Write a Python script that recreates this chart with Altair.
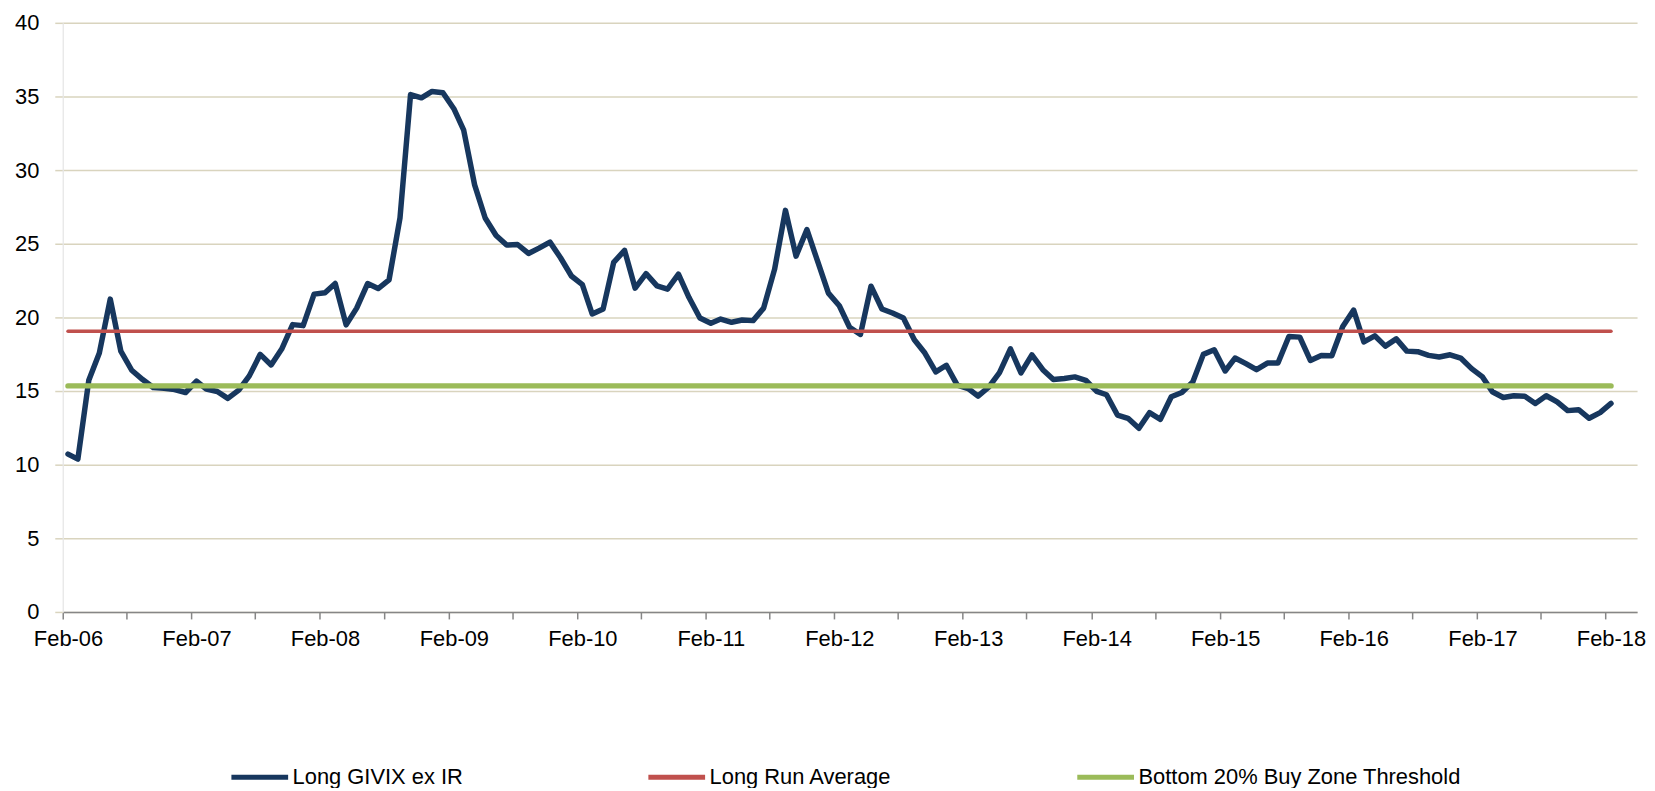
import altair as alt
import pandas as pd

# ---- data (monthly, Feb-06 .. Feb-18) ----
start_month = "2006-02-01"
givix = [10.72, 10.38, 15.73, 17.58, 21.24, 17.71, 16.41, 15.78, 15.24, 15.19,
         15.10, 14.90, 15.67, 15.13, 14.97, 14.50, 15.06, 16.03, 17.49, 16.77,
         17.85, 19.51, 19.44, 21.58, 21.67, 22.30, 19.49, 20.63, 22.30, 21.96,
         22.55, 26.75, 35.13, 34.91, 35.34, 35.25, 34.17, 32.71, 29.00, 26.75,
         25.56, 24.91, 24.95, 24.34, 24.70, 25.11, 24.05, 22.81, 22.23, 20.23,
         20.57, 23.74, 24.55, 21.98, 22.97, 22.14, 21.92, 22.93, 21.35, 19.96,
         19.60, 19.89, 19.67, 19.82, 19.78, 20.63, 23.26, 27.27, 24.16, 25.96,
         23.83, 21.65, 20.79, 19.33, 18.84, 22.12, 20.57, 20.30, 19.96, 18.48,
         17.58, 16.30, 16.75, 15.40, 15.17, 14.65, 15.28, 16.25, 17.87, 16.23,
         17.46, 16.45, 15.78, 15.85, 15.96, 15.73, 14.98, 14.75, 13.37, 13.15,
         12.47, 13.53, 13.08, 14.61, 14.90, 15.62, 17.49, 17.80, 16.36, 17.24,
         16.86, 16.45, 16.90, 16.90, 18.70, 18.66, 17.08, 17.42, 17.40, 19.38,
         20.50, 18.34, 18.75, 18.05, 18.54, 17.71, 17.67, 17.42, 17.31, 17.46,
         17.24, 16.52, 15.96, 14.95, 14.56, 14.68, 14.65, 14.16, 14.68, 14.27,
         13.67, 13.73, 13.15, 13.53, 14.16]
long_run_average = 19.06
buy_zone_threshold = 15.35

series_names = ["Long GIVIX ex IR", "Long Run Average", "Bottom 20% Buy Zone Threshold"]
series_colors = ["#17375E", "#C0504D", "#9BBB59"]
series_widths = [5.5, 3.5, 5.5]

y_ticks = [0, 5, 10, 15, 20, 25, 30, 35, 40]
tick_years = list(range(2006, 2019))

# ---- table ----
dates = pd.date_range(start_month, periods=len(givix), freq="MS")
rows = []
for d, g in zip(dates, givix):
    ds = d.strftime("%Y-%m-%d")
    rows.append({"date": ds, "series": series_names[0], "value": g})
    rows.append({"date": ds, "series": series_names[1], "value": long_run_average})
    rows.append({"date": ds, "series": series_names[2], "value": buy_zone_threshold})
df = pd.DataFrame(rows)

tick_values = []
for yr in tick_years:
    tick_values.append(alt.DateTime(year=yr, month=2, date=1))
    if yr < 2018:
        tick_values.append(alt.DateTime(year=yr, month=8, date=1))

FONT = "Liberation Sans, Arial, sans-serif"
FS = 22
half_month = 5.4

x_enc = alt.X(
    "date:T",
    title=None,
    scale=alt.Scale(domain=[alt.DateTime(year=2006, month=1, date=17),
                            alt.DateTime(year=2018, month=4, date=16)]),
    axis=alt.Axis(
        values=tick_values,
        labelExpr="month(datum.value) == 1 ? timeFormat(datum.value, '%b-%y') : ''",
        tickOffset=-half_month,
        labelOffset=half_month,
        labelOverlap=False,
        labelFlush=False,
        grid=False,
        domainColor="#868686",
        domainWidth=1.5,
        tickColor="#868686",
        tickWidth=1.5,
        tickSize=7,
        labelPadding=10,
        labelFont=FONT,
        labelFontSize=FS,
        labelColor="#000000",
    ),
)
y_enc = alt.Y(
    "value:Q",
    title=None,
    scale=alt.Scale(domain=[0, 40], nice=False),
    axis=alt.Axis(
        values=y_ticks,
        grid=True,
        gridColor="#D9D4BE",
        gridWidth=1.5,
        tickColor="#D9D4BE",
        tickWidth=1.5,
        tickSize=8,
        domainColor="#E6E6E6",
        domainWidth=1.3,
        labelPadding=16,
        labelFont=FONT,
        labelFontSize=FS,
        labelColor="#000000",
    ),
)
color_enc = alt.Color(
    "series:N",
    scale=alt.Scale(domain=series_names, range=series_colors),
    legend=alt.Legend(
        title=None,
        orient="none",
        direction="horizontal",
        legendX=167,
        legendY=727,
        columns=3,
        columnPadding=175,
        padding=0,
        symbolType="stroke",
        symbolSize=3249,
        symbolStrokeWidth=5,
        labelOffset=2,
        labelLimit=0,
        labelFont=FONT,
        labelFontSize=FS,
        labelColor="#000000",
    ),
)

base = alt.Chart(df).encode(x=x_enc, y=y_enc, color=color_enc)

layers = []
for name, w in zip(series_names, series_widths):
    layers.append(
        base.transform_filter(alt.datum.series == name).mark_line(
            strokeWidth=w, strokeCap="round", strokeJoin="round"
        )
    )

chart = (
    alt.layer(*layers)
    .properties(
        width=1582,
        height=592,
        autosize=alt.AutoSizeParams(type="none"),
        padding={"left": 55, "top": 13, "right": 10, "bottom": 175},
        background="white",
    )
    .configure_view(stroke=None)
)

chart.save("out.html", embed_options={"renderer": "svg", "actions": False})
